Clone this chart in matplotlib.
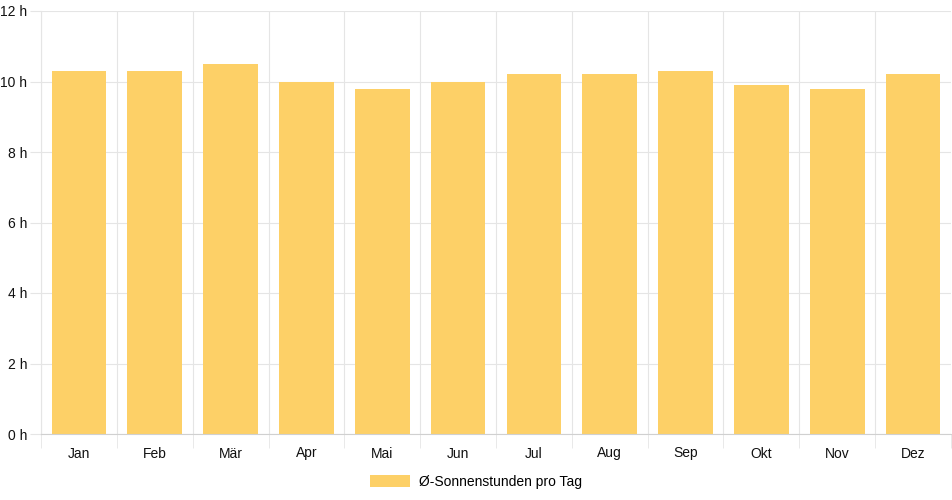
import numpy as np
import matplotlib.pyplot as plt
from matplotlib.ticker import MultipleLocator, FuncFormatter

# Daten: durchschnittliche Sonnenstunden pro Tag
monate = ["Jan", "Feb", "Mär", "Apr", "Mai", "Jun",
          "Jul", "Aug", "Sep", "Okt", "Nov", "Dez"]
sonnenstunden = [10.3, 10.3, 10.5, 10.0, 9.8, 10.0,
                 10.2, 10.2, 10.3, 9.9, 9.8, 10.2]

plt.rcParams['font.family'] = ['Liberation Sans', 'DejaVu Sans']

fig = plt.figure(figsize=(9.52, 5.0), dpi=100)
ax = fig.add_axes([41 / 952, 66 / 500, 910 / 952, 423 / 500])

x = np.arange(len(monate))
ax.bar(x, sonnenstunden, width=0.72, color='#fdd067', zorder=2,
       label='Ø-Sonnenstunden pro Tag')

ax.set_xlim(-0.5, len(monate) - 0.5)
ax.set_ylim(0, 12)

# y-Achse
ax.yaxis.set_major_locator(MultipleLocator(2))
ax.yaxis.set_major_formatter(FuncFormatter(lambda v, p: f"{v:.0f} h"))
ax.tick_params(axis='y', length=8, color='#e5e5e5', labelsize=10,
               labelcolor='#111111', pad=2)

# x-Achse: Beschriftung in der Mitte, Gitter an den Kategoriegrenzen
ax.set_xticks(x)
ax.set_xticklabels(monate)
ax.set_xticks(np.arange(-0.5, len(monate)), minor=True)
ax.tick_params(axis='x', which='major', length=0, labelsize=10,
               labelcolor='#111111', pad=9)
ax.tick_params(axis='x', which='minor', length=10, color='#e5e5e5')

ax.grid(True, axis='y', which='major', color='#e5e5e5', lw=0.8, zorder=0)
ax.grid(True, axis='x', which='minor', color='#e5e5e5', lw=0.8, zorder=0)
ax.set_axisbelow(True)

for side in ['top', 'right']:
    ax.spines[side].set_visible(False)
ax.spines['left'].set_color('#e5e5e5')
ax.spines['bottom'].set_color('#d0d0d0')

fig.legend(loc='center', bbox_to_anchor=(476 / 952, 1 - 482 / 500),
           frameon=False, fontsize=10, handlelength=2.9, handleheight=0.95,
           handletextpad=0.6)

plt.savefig('out.png', dpi=100)
